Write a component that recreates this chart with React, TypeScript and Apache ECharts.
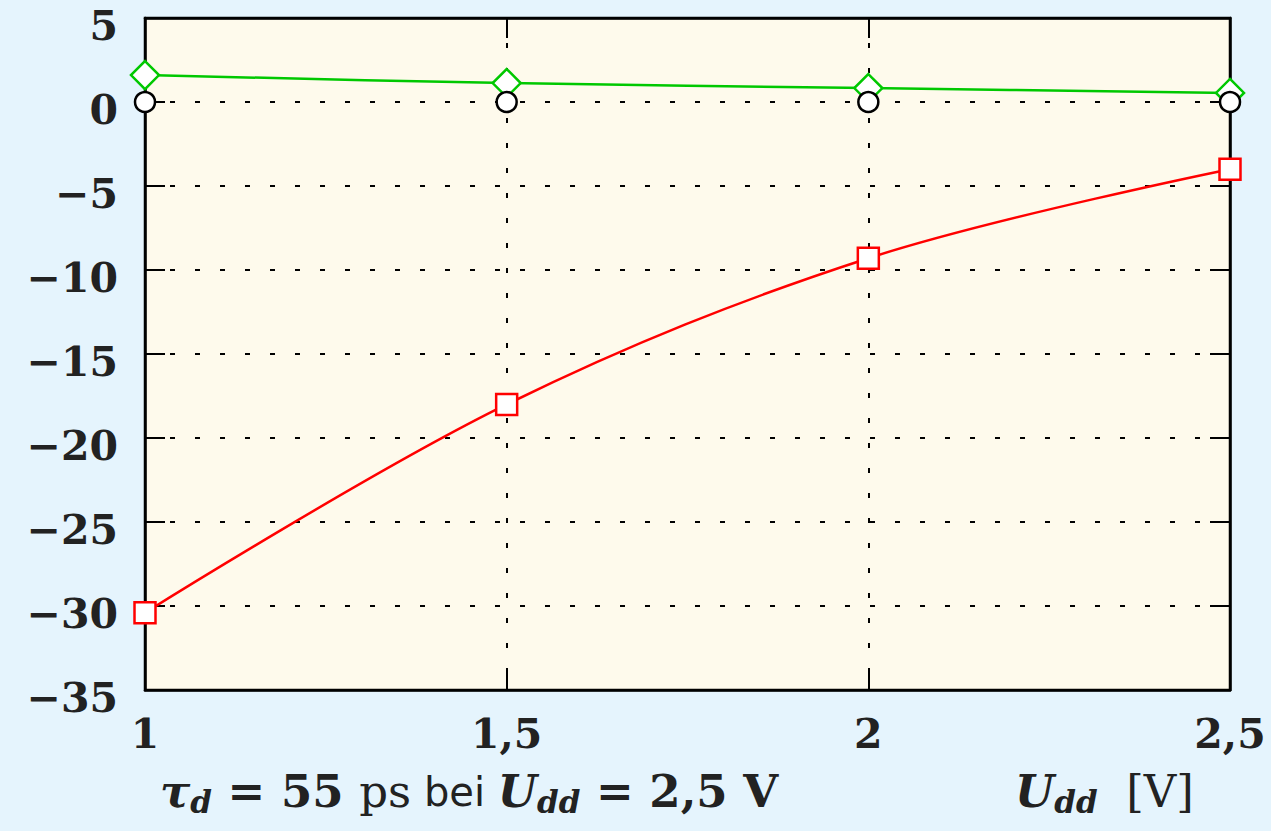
import React, { useEffect, useRef } from "react";
import * as echarts from "echarts";

const xValues = [1, 1.5, 2, 2.5];
const redSquares = [-30.4, -18, -9.3, -4];
const greenDiamonds = [1.6, 1.13, 0.83, 0.54];
const blackCircles = [0, 0, 0, 0];

const FONT = "'DejaVu Serif', 'Liberation Serif', serif";
const fmt = (v: number) => {
  const s = String(v).replace(".", ",");
  return v < 0 ? "\u2212" + s.slice(1) : s;
};

export default function App() {
  const ref = useRef<HTMLDivElement>(null);
  useEffect(() => {
    const chart = echarts.init(ref.current!, null, { renderer: "svg" });
    const pts = (ys: number[]) => xValues.map((x, i) => [x, ys[i]]);
    const tickStyle = { show: true, inside: true, length: 20, lineStyle: { color: "#000", width: 2 } };
    const gridLine = { show: true, lineStyle: { color: "#000", width: 2, type: [5, 20], dashOffset: 0 } };
    const axisLine = { show: true, onZero: false, lineStyle: { color: "#000", width: 2.5 } };
    const sub = { fontFamily: FONT, fontStyle: "italic", fontWeight: "bold", fontSize: 31, fill: "#222", padding: [20, 0, 0, 0] };
    chart.setOption({
      animation: false,
      backgroundColor: "#E5F4FD",
      grid: {
        left: 145, right: 41, top: 18, bottom: 141,
        show: true, backgroundColor: "#FEFAEC", borderColor: "#000", borderWidth: 2.5,
      },
      xAxis: [
        {
          type: "value", min: 1, max: 2.5, interval: 0.5,
          axisLine, axisTick: tickStyle,
          axisLabel: { formatter: fmt, fontFamily: FONT, fontWeight: "bold", fontSize: 41, color: "#222", margin: 23 },
          splitLine: gridLine,
        },
        {
          type: "value", min: 1, max: 2.5, interval: 0.5, position: "top",
          axisLine, axisTick: tickStyle, axisLabel: { show: false }, splitLine: { show: false },
        },
      ],
      yAxis: [
        {
          type: "value", min: -35, max: 5, interval: 5,
          axisLine, axisTick: tickStyle,
          axisLabel: {
            formatter: (v: number) => "{a|" + fmt(v) + "}",
            margin: 27,
            rich: {
              a: { fontFamily: FONT, fontWeight: "bold", fontSize: 41, color: "#222", padding: [16, 0, 0, 0] },
            },
          },
          splitLine: gridLine,
        },
        {
          type: "value", min: -35, max: 5, interval: 5, position: "right",
          axisLine, axisTick: tickStyle, axisLabel: { show: false }, splitLine: { show: false },
        },
      ],
      series: [
        {
          type: "line", data: pts(redSquares), smooth: 0.35, clip: false,
          symbol: "rect", symbolSize: 21,
          lineStyle: { color: "#ff0000", width: 2.5 },
          itemStyle: { color: "#fff", borderColor: "#ff0000", borderWidth: 2.5 },
        },
        {
          type: "line", data: pts(greenDiamonds), smooth: 0.35, clip: false,
          symbol: "diamond", symbolSize: 28,
          lineStyle: { color: "#00c800", width: 2.5 },
          itemStyle: { color: "#fff", borderColor: "#00c800", borderWidth: 2.5 },
        },
        {
          type: "line", data: pts(blackCircles), clip: false,
          symbol: "circle", symbolSize: 20,
          lineStyle: { opacity: 0, width: 0 },
          itemStyle: { color: "#fff", borderColor: "#000", borderWidth: 2.5 },
        },
      ],
      graphic: [
        {
          type: "text", left: 160, top: 769,
          style: {
            text: "{t|\u03C4}{sub|d}{eq| = 55 }{ps|ps}{bei| bei }{u|U}{sub|dd}{eq| = 2,5 V}",
            rich: {
              t: { fontFamily: FONT, fontStyle: "italic", fontWeight: "bold", fontSize: 45, fill: "#222" },
              sub,
              eq: { fontFamily: FONT, fontWeight: "bold", fontSize: 45, fill: "#222" },
              ps: { fontFamily: FONT, fontSize: 45, fill: "#222" },
              bei: { fontFamily: "'DejaVu Sans', sans-serif", fontSize: 40, fill: "#222" },
              u: { fontFamily: FONT, fontStyle: "italic", fontWeight: "bold", fontSize: 45, fill: "#222" },
            },
          },
        },
        {
          type: "text", left: 1015, top: 769,
          style: {
            text: "{u|U}{sub|dd}{eq|  [V]}",
            rich: {
              u: { fontFamily: FONT, fontStyle: "italic", fontWeight: "bold", fontSize: 45, fill: "#222" },
              sub,
              eq: { fontFamily: FONT, fontSize: 45, fill: "#222" },
            },
          },
        },
      ],
    });
    return () => chart.dispose();
  }, []);
  return <div ref={ref} style={{ width: 1271, height: 831, position: "absolute", left: 0, top: 0 }} />;
}
